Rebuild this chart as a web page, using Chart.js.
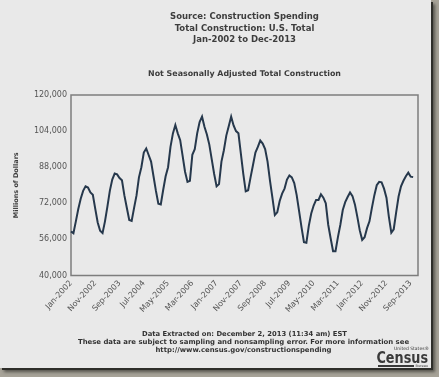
<!DOCTYPE html>
<html><head><meta charset="utf-8">
<script src="https://cdn.jsdelivr.net/npm/chart.js@4.4.0/dist/chart.umd.min.js"></script>
<style>
html,body{margin:0;padding:0;width:439px;height:377px;overflow:hidden;background:#a7a398;}
#panel{position:absolute;left:0;top:0;width:431px;height:368px;background:#e9e9e9;box-shadow:2px 2px 0 #2e2e2a,4px 4px 3px #55544d;}
#c{position:absolute;left:0;top:0;}
</style></head><body>
<div id="panel"></div>
<canvas id="c" width="439" height="377"></canvas>
<script>
const monthNames = ['Jan','Feb','Mar','Apr','May','Jun','Jul','Aug','Sep','Oct','Nov','Dec'];
const years = [2002,2003,2004,2005,2006,2007,2008,2009,2010,2011,2012,2013];
const categories = [];
years.forEach(y => monthNames.forEach(m => categories.push(m + '-' + y)));

// Not seasonally adjusted total construction, millions of dollars (Jan-2002 .. Oct-2013)
const spending = [
  59500, 58700, 64000, 69500, 74000, 77500, 79500, 79000, 76800, 75800, 69500, 63500,
  59800, 58800, 64000, 70500, 77500, 82500, 85200, 84800, 83200, 82200, 75500, 70000,
  64600, 64200, 70000, 75500, 83500, 88000, 94500, 96300, 93400, 90500, 84000, 77500,
  71800, 71500, 78000, 84000, 88000, 97000, 103000, 106700, 103000, 100000, 93000, 86000,
  81500, 82000, 93500, 96000, 103000, 108000, 110400, 105900, 102500, 98000, 91500, 85000,
  79500, 80500, 90500, 95500, 102000, 106200, 110400, 106500, 104000, 103000, 94000, 85000,
  77300, 77800, 83500, 89000, 94500, 97000, 99800, 98500, 96000, 90500, 82000, 74500,
  66800, 68000, 73000, 76300, 78500, 82500, 84300, 83500, 81000, 75600, 68500, 61300,
  54800, 54500, 62000, 67500, 71000, 73500, 73500, 76000, 74500, 72000, 62500, 56500,
  50800, 50800, 57000, 62500, 69000, 72500, 74800, 76800, 75200, 71500, 66000, 60000,
  55800, 57000, 61000, 64000, 70000, 75500, 80000, 81500, 81300, 78500, 74500, 66000,
  59000, 60500, 68000, 75000, 79500, 82000, 84000, 85600, 83800, 83600
];

const xTickLabels = ['Jan-2002','Nov-2002','Sep-2003','Jul-2004','May-2005','Mar-2006','Jan-2007',
  'Nov-2007','Sep-2008','Jul-2009','May-2010','Mar-2011','Jan-2012','Nov-2012','Sep-2013'];
const yTickValues = [40000, 56000, 72000, 88000, 104000, 120000];

const titleLines = ['Source: Construction Spending','Total Construction: U.S. Total','Jan-2002 to Dec-2013'];
const subtitleText = 'Not Seasonally Adjusted Total Construction';
const yTitleText = 'Millions of Dollars';
const extractedText = 'Data Extracted on: December 2, 2013 (11:34 am) EST';
const footerLines = ['These data are subject to sampling and nonsampling error. For more information see',
  'http://www.census.gov/constructionspending'];

const FONT = '"DejaVu Sans", Verdana, sans-serif';
const fmt = v => String(v).replace(/\B(?=(\d{3})+(?!\d))/g, ',');

const decor = {
  id: 'decor',
  beforeDatasetsDraw(chart) {
    const {ctx, chartArea: a} = chart;
    ctx.save();
    ctx.strokeStyle = '#7d7d7d';
    ctx.lineWidth = 1.5;
    ctx.strokeRect(a.left, a.top, a.right - a.left, a.bottom - a.top);
    ctx.restore();
  },
  afterDraw(chart) {
    const ctx = chart.ctx;
    const cx = (chart.chartArea.left + chart.chartArea.right) / 2;
    ctx.save();
    ctx.textAlign = 'center';
    ctx.textBaseline = 'middle';
    ctx.fillStyle = '#3d3d3d';
    ctx.font = 'bold 8.5px ' + FONT;
    titleLines.forEach((t, i) => ctx.fillText(t, cx, 17 + i * 11.3));
    ctx.font = 'bold 7.9px ' + FONT;
    ctx.fillText(subtitleText, cx, 73.5);
    ctx.font = 'bold 6.8px ' + FONT;
    ctx.fillStyle = '#333';
    ctx.fillText(extractedText, cx, 334);
    ctx.font = 'bold 6.9px ' + FONT;
    footerLines.forEach((t, i) => ctx.fillText(t, cx - 1, 342 + i * 8.3));
    // Census logo
    ctx.textAlign = 'right';
    ctx.fillStyle = '#3a3a3a';
    ctx.font = '4.5px ' + FONT;
    ctx.fillText('United States\u00AE', 429, 348.5);
    ctx.save();
    ctx.translate(428, 359);
    ctx.scale(0.8, 1);
    ctx.font = 'bold 16px ' + FONT;
    ctx.fillText('Census', 0, 0);
    ctx.restore();
    ctx.fillRect(378, 365, 36, 2);
    ctx.font = '3.5px ' + FONT;
    ctx.fillText('Bureau', 428, 366.5);
    ctx.restore();
  }
};

new Chart(document.getElementById('c'), {
  type: 'line',
  data: {
    labels: categories,
    datasets: [{
      data: spending,
      borderColor: '#26384c',
      borderWidth: 2,
      pointRadius: 0,
      tension: 0,
      fill: false
    }]
  },
  options: {
    responsive: false,
    devicePixelRatio: 1,
    animation: false,
    layout: {padding: {left: 0, right: 21, top: 95, bottom: 0}},
    plugins: {legend: {display: false}, tooltip: {enabled: false}},
    scales: {
      x: {
        type: 'category',
        offset: false,
        grid: {display: false, drawTicks: false},
        border: {display: false},
        ticks: {
          autoSkip: false, minRotation: 48, maxRotation: 48, padding: 3,
          color: '#555', font: {family: FONT, size: 8},
          callback(v) { const l = this.getLabelForValue(v); return xTickLabels.includes(l) ? l : ''; }
        },
        afterFit(s) { s.height = 101.5; }
      },
      y: {
        min: 40000, max: 120000,
        grid: {display: false, drawTicks: false},
        border: {display: false},
        afterBuildTicks(s) { s.ticks = yTickValues.map(v => ({value: v})); },
        ticks: {color: '#555', font: {family: FONT, size: 8}, padding: 4, callback: v => fmt(v)},
        title: {display: true, text: yTitleText, color: '#3d3d3d',
          font: {family: FONT, size: 6.5, weight: 'bold'}, padding: {top: 12, bottom: 0}},
        afterFit(s) { s.width = 71; }
      }
    }
  },
  plugins: [decor]
});
</script>
</body></html>
